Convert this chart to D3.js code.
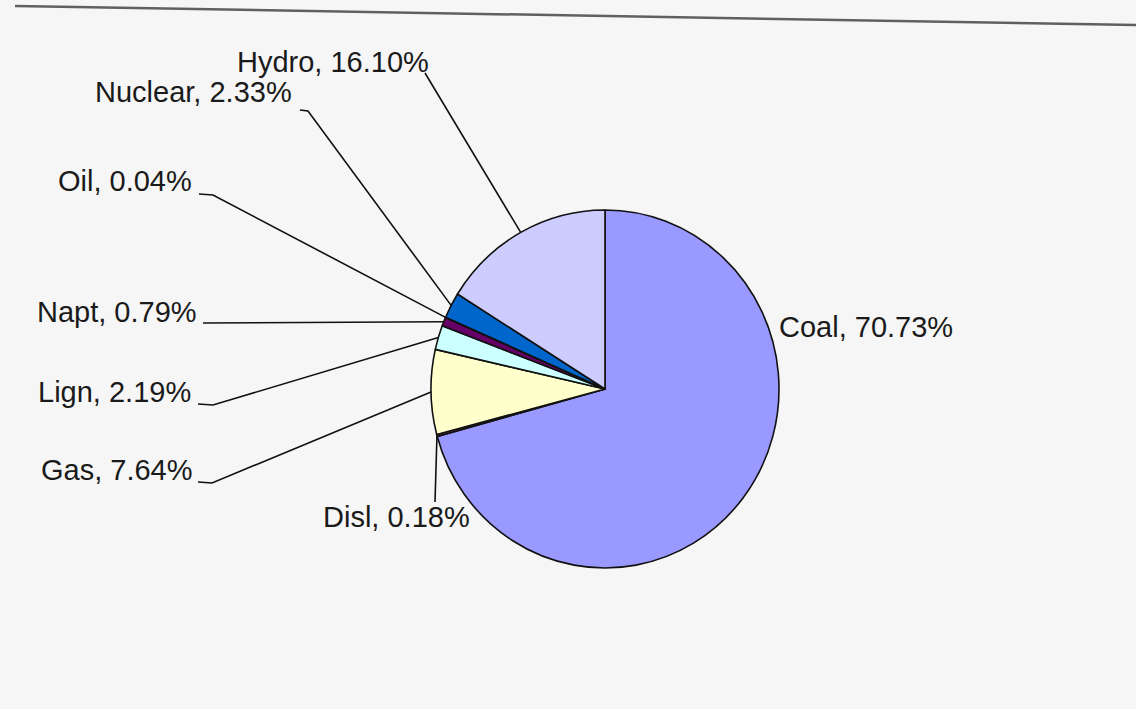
<!DOCTYPE html>
<html>
<head>
<meta charset="utf-8">
<script src="https://cdn.jsdelivr.net/npm/d3@7/dist/d3.min.js"></script>
<style>
  html, body { margin: 0; padding: 0; background: #f6f6f6; }
  svg { display: block; }
</style>
</head>
<body>
<svg id="chart" width="1136" height="709"></svg>
<script>
// ---- data ----
const categories = ["Coal", "Disl", "Gas", "Lign", "Napt", "Oil", "Nuclear", "Hydro"];
const shares = [70.73, 0.18, 7.64, 2.19, 0.79, 0.04, 2.33, 16.10];
const sliceColors = ["#9999FF", "#993366", "#FFFFCC", "#CCFFFF", "#660066", "#FF8080", "#0066CC", "#CCCCFF"];

// ---- label layout (manually placed labels, as in the original) ----
// x,y: text start & baseline; sx,sy: leader start; hx: end of short horizontal part
const labelLayout = {
  Coal:    { x: 779, y: 337, leader: false },
  Disl:    { x: 323, y: 527, sx: 435, sy: 502, hx: null },
  Gas:     { x: 41,  y: 480, sx: 198, sy: 482, hx: 212 },
  Lign:    { x: 38,  y: 402, sx: 198, sy: 404, hx: 213 },
  Napt:    { x: 37,  y: 322, sx: 203, sy: 323, hx: null },
  Oil:     { x: 58,  y: 191, sx: 199, sy: 194, hx: 213 },
  Nuclear: { x: 95,  y: 102, sx: 300, sy: 110, hx: 308 },
  Hydro:   { x: 237, y: 72,  sx: 425, sy: 73,  hx: null }
};

const W = 1136, H = 709;
const cx = 605, cy = 389, rx = 174, ry = 179;
const svg = d3.select("#chart");

svg.append("rect").attr("width", W).attr("height", H).attr("fill", "#f6f6f6");

// top rule
svg.append("line")
  .attr("x1", 15).attr("y1", 6).attr("x2", W).attr("y2", 25)
  .attr("stroke", "#606060").attr("stroke-width", 2.5);

const data = categories.map((c, i) => ({ name: c, value: shares[i], color: sliceColors[i] }));

const pie = d3.pie().sort(null).value(d => d.value);
const arcs = pie(data);
const arc = d3.arc().innerRadius(0).outerRadius(rx);
const edgeArc = d3.arc().innerRadius(rx).outerRadius(rx);

const g = svg.append("g").attr("transform", `translate(${cx},${cy}) scale(1,${ry / rx})`);
g.selectAll("path.slice")
  .data(arcs)
  .join("path")
  .attr("class", "slice")
  .attr("d", arc)
  .attr("fill", d => d.data.color)
  .attr("stroke", "#111")
  .attr("stroke-width", 1.6)
  .attr("stroke-linejoin", "round")
  .attr("vector-effect", "non-scaling-stroke");

// leader lines
const fmt = v => v.toFixed(2) + "%";
const leaders = svg.append("g");
arcs.forEach(a => {
  const L = labelLayout[a.data.name];
  if (!L.leader && L.leader !== undefined) return;
  const c = edgeArc.centroid(a);
  const ex = cx + c[0], ey = cy + c[1] * ry / rx;
  const pts = [[L.sx, L.sy]];
  if (L.hx != null) pts.push([L.hx, L.sy + 1]);
  pts.push([ex, ey]);
  leaders.append("path")
    .attr("d", d3.line()(pts))
    .attr("fill", "none")
    .attr("stroke", "#111")
    .attr("stroke-width", 1.6);
});

// labels
svg.append("g").selectAll("text")
  .data(arcs)
  .join("text")
  .attr("x", d => labelLayout[d.data.name].x)
  .attr("y", d => labelLayout[d.data.name].y)
  .attr("font-family", "'Liberation Sans', Arial, sans-serif")
  .attr("font-size", 29)
  .attr("fill", "#1a1a1a")
  .text(d => `${d.data.name}, ${fmt(d.data.value)}`);
</script>
</body>
</html>
